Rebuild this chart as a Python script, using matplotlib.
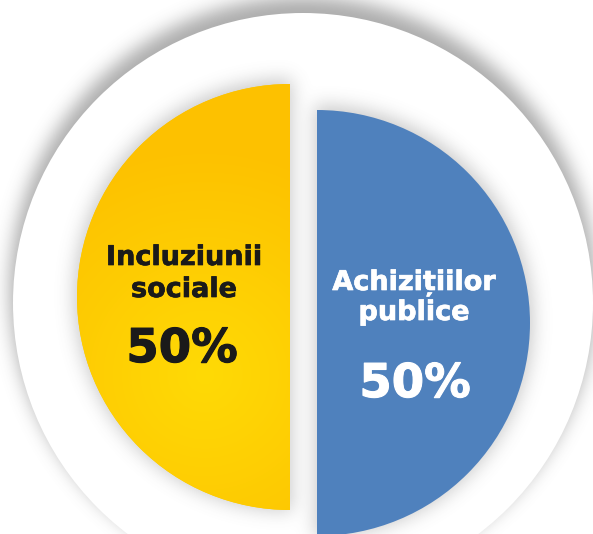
import numpy as np
import matplotlib
matplotlib.use("Agg")
import matplotlib.pyplot as plt
from matplotlib.patches import Circle
import matplotlib.patheffects as pe

# ---- data ----
labels = ["Incluziunii\nsociale", "Achizițiilor\npublice"]
values = [50, 50]
pct_labels = ["50%", "50%"]
colors = ["#FFC800", "#4F81BD"]
text_colors = ["#1A1A1A", "#FFFFFF"]

# ---- layout (pixels) ----
W, H = 593, 534
R_OUT, C_OUT = 290, (303, 303)
R_PIE, C_PIE = 213, (303.5, 310)
offsets = [(-13.5, -13), (13.5, 13)]

fig = plt.figure(figsize=(W / 100, H / 100), dpi=100)
fig.patch.set_facecolor("white")
ax = fig.add_axes([0, 0, 1, 1])


def blur(a, sigma):
    r = int(3 * sigma)
    k = np.exp(-0.5 * (np.arange(-r, r + 1) / sigma) ** 2)
    k /= k.sum()
    a = np.apply_along_axis(lambda v: np.convolve(v, k, mode="same"), 0, a)
    a = np.apply_along_axis(lambda v: np.convolve(v, k, mode="same"), 1, a)
    return a


M = 60
xx, yy = np.meshgrid(np.arange(-M, W + M) + 0.5, np.arange(-M, H + M) + 0.5)


def shadow_layer(mask, sigma, strength, gray=0.35):
    b = blur(mask.astype(float), sigma)[M:-M, M:-M]
    img = np.zeros((H, W, 4))
    img[..., :3] = gray
    img[..., 3] = np.clip(b * strength, 0, 1)
    return img


# outer halo shadow (cast upward, hidden at the bottom)
outer_mask = (xx - C_OUT[0]) ** 2 + (yy - (C_OUT[1] - 13)) ** 2 <= (R_OUT + 3) ** 2
ax.imshow(shadow_layer(outer_mask, 9, 0.5), extent=(0, W, H, 0), zorder=1,
          interpolation="bilinear")
ax.add_patch(Circle(C_OUT, R_OUT, facecolor="white", edgecolor="none", zorder=2))

# pie
wedges, _ = ax.pie(values, colors=colors, startangle=90, radius=R_PIE,
                   center=C_PIE, wedgeprops=dict(linewidth=0))
centers = []
for w, (dx, dy) in zip(wedges, offsets):
    c = (C_PIE[0] + dx, C_PIE[1] + dy)
    w.set_center(c)
    w.set_zorder(4)
    centers.append(c)

# inner shadows of the half discs
inner_mask = np.zeros_like(xx, dtype=bool)
for (cx, cy), side in zip(centers, [-1, 1]):
    d = (xx - cx) ** 2 + (yy - cy + 2) ** 2 <= (R_PIE + 3) ** 2
    half = (xx - cx) * side >= -2
    inner_mask |= d & half
ax.imshow(shadow_layer(inner_mask, 9, 0.32), extent=(0, W, H, 0), zorder=3,
          interpolation="bilinear")

# yellow radial gradient
gx, gy = np.meshgrid(np.arange(W) + 0.5, np.arange(H) + 0.5)
d = np.sqrt((gx - 205) ** 2 + (gy - 375) ** 2) / 230
d = np.clip(d, 0, 1)
c_in = np.array([255, 218, 6]) / 255
c_out = np.array([253, 193, 0]) / 255
grad = c_in[None, None, :] * (1 - d[..., None]) + c_out[None, None, :] * d[..., None]
im = ax.imshow(grad, extent=(0, W, H, 0), zorder=5, interpolation="bilinear")
im.set_clip_path(wedges[0])

# texts
label_pos = [(184, [265, 297], 182, 362), (414, [290, 320], 415, 397)]
for lab, pct, tc, (lx, lys, px, py) in zip(labels, pct_labels, text_colors, label_pos):
    for line, ly in zip(lab.split("\n"), lys):
        ax.text(lx, ly, line, ha="center", va="baseline", fontsize=19.5,
                fontweight="bold", color=tc, family="DejaVu Sans", zorder=6,
                path_effects=[pe.withStroke(linewidth=0.5, foreground=tc)])
    ax.text(px, py, pct, ha="center", va="baseline", fontsize=33.5,
            fontweight="bold", color=tc, family="DejaVu Sans", zorder=6,
            path_effects=[pe.withStroke(linewidth=0.8, foreground=tc)])

ax.set_xlim(0, W)
ax.set_ylim(H, 0)
ax.set_aspect("equal")
ax.axis("off")
fig.savefig("out.png", dpi=100, facecolor="white")
